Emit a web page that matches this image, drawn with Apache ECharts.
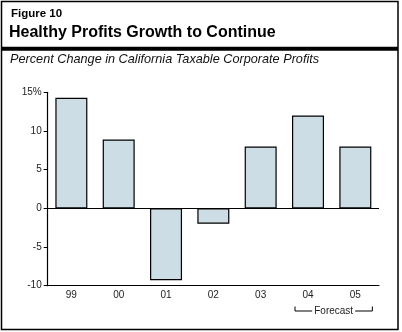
<!DOCTYPE html>
<html>
<head>
<meta charset="utf-8">
<script src="https://cdn.jsdelivr.net/npm/echarts@6/dist/echarts.min.js"></script>
<style>
  html, body { margin: 0; padding: 0; background: #fff; }
  #chart { width: 402px; height: 332px; }
</style>
</head>
<body>
<div id="chart"></div>
<script>
// Fiscal years and percent change in taxable corporate profits
const years = ['99', '00', '01', '02', '03', '04', '05'];
const profitGrowth = [14.3, 8.9, -9.3, -2.0, 8.0, 12.0, 8.0];
const forecastYears = ['04', '05'];
const yTicks = { min: -10, max: 15, step: 5 };

const FONT = 'Liberation Sans, Arial, Helvetica, sans-serif';
const chart = echarts.init(document.getElementById('chart'), null, { renderer: 'canvas' });

const option = {
  animation: false,
  backgroundColor: '#fff',
  grid: { left: 47.7, right: 23, top: 92.3, bottom: 46.3, containLabel: false },
  xAxis: {
    type: 'category',
    data: years,
    boundaryGap: true,
    axisLine: { onZero: false, lineStyle: { color: '#000', width: 1.2 } },
    axisTick: { show: false },
    axisLabel: { color: '#222', fontFamily: FONT, fontSize: 10, margin: 5 }
  },
  yAxis: {
    type: 'value',
    min: yTicks.min,
    max: yTicks.max,
    interval: yTicks.step,
    splitLine: { show: false },
    axisLine: { show: true, lineStyle: { color: '#000', width: 1.2 } },
    axisTick: { show: true, length: 4, lineStyle: { color: '#000', width: 1 } },
    axisLabel: {
      color: '#222', fontFamily: FONT, fontSize: 10, margin: 6,
      formatter: v => (v === yTicks.max ? v + '%' : String(v))
    }
  },
  series: [{
    type: 'bar',
    data: profitGrowth,
    barWidth: 32,
    itemStyle: { color: '#cddde5', borderColor: '#000', borderWidth: 1.2 },
    markLine: {
      silent: true,
      symbol: 'none',
      label: { show: false },
      lineStyle: { color: '#000', width: 1.2, type: 'solid' },
      data: [{ yAxis: 0 }]
    }
  }]
};
chart.setOption(option);

// Frame, headings and the forecast bracket under the last two years
const x04 = chart.convertToPixel({ xAxisIndex: 0 }, forecastYears[0]);
const x05 = chart.convertToPixel({ xAxisIndex: 0 }, forecastYears[1]);
const bx0 = x04 - 13, bx1 = x05 + 17, bMid = (bx0 + bx1) / 2;
const bTop = 306.5, bY = 311;

chart.setOption({
  graphic: [
    { type: 'rect', shape: { x: 1.5, y: 1.5, width: 396.5, height: 328 },
      style: { fill: 'none', stroke: '#000', lineWidth: 1.5 } },
    { type: 'rect', shape: { x: 1.5, y: 46.7, width: 396.5, height: 4 },
      style: { fill: '#000' } },
    { type: 'text', left: 11, top: 7.5,
      style: { text: 'Figure 10', fontFamily: FONT, fontWeight: 'bold', fontSize: 11.5, fill: '#000' } },
    { type: 'text', left: 9, top: 25,
      style: { text: 'Healthy Profits Growth to Continue', fontFamily: FONT, fontWeight: 'bold', fontSize: 16, fill: '#000' } },
    { type: 'text', left: 10, top: 53,
      style: { text: 'Percent Change in California Taxable Corporate Profits', fontFamily: FONT, fontStyle: 'italic', fontSize: 12.7, fill: '#111' } },
    { type: 'polyline', shape: { points: [[bx0, bTop], [bx0, bY], [bMid - 21.5, bY]] },
      style: { stroke: '#000', lineWidth: 1, fill: 'none' } },
    { type: 'polyline', shape: { points: [[bMid + 21.5, bY], [bx1, bY], [bx1, bTop]] },
      style: { stroke: '#000', lineWidth: 1, fill: 'none' } },
    { type: 'text', x: bMid, y: bY,
      style: { text: 'Forecast', fontFamily: FONT, fontSize: 10, fill: '#222', align: 'center', verticalAlign: 'middle' } }
  ]
});
</script>
</body>
</html>
